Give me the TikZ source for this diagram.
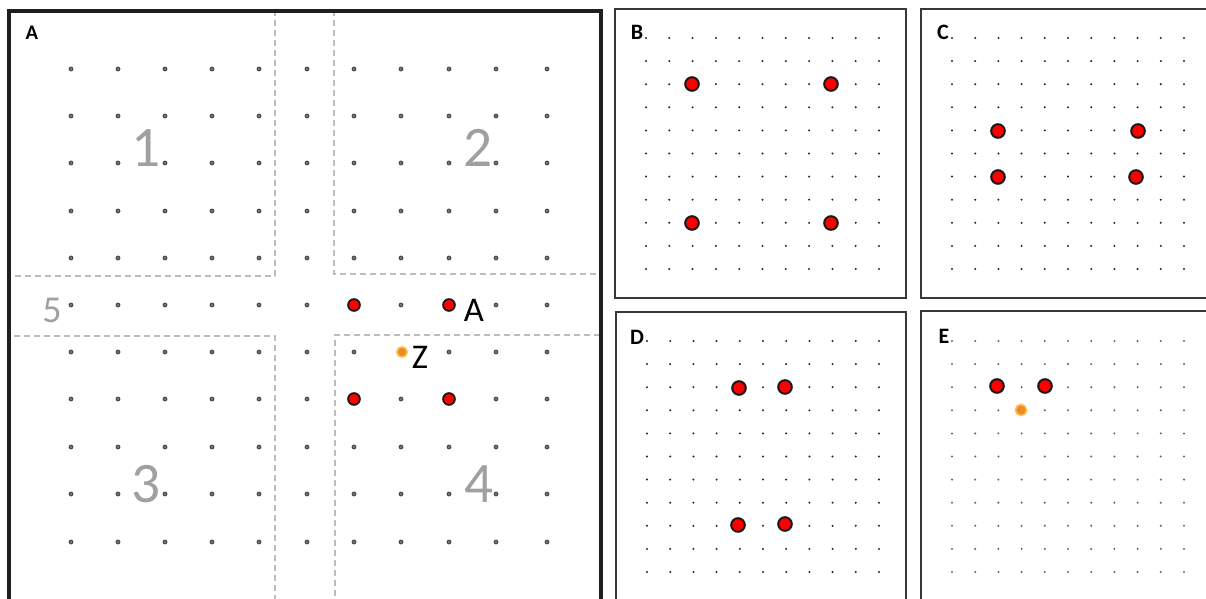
\documentclass[tikz,border=0pt]{standalone}
\usepackage{fontspec}
\setmainfont{Carlito}
\usetikzlibrary{positioning}
\definecolor{zonegray}{HTML}{A0A0A0}
\definecolor{dashgray}{HTML}{BDBDBD}
\definecolor{zorange}{HTML}{EE8A2C}
\definecolor{zhalo}{HTML}{FFC44D}

\begin{document}
\begin{tikzpicture}[x=0.75pt, y=-0.75pt,
    every node/.style={inner sep=0pt},
    panel/.style={draw=black!78, line width=1.6pt},
    zoneline/.style={draw=dashgray, line width=1.1pt, dash pattern=on 4.5pt off 3pt},
    zonenum/.style={text=zonegray, font=\fontsize{43}{43}\selectfont},
    tag/.style={font=\bfseries\fontsize{16.5}{16.5}\selectfont},
    bigdot/.style={circle, fill=red, draw=black!90, line width=1.4pt, minimum size=8.8pt},
    reddot/.style={circle, fill=red, draw=black!90, line width=1.5pt, minimum size=10.2pt},
    zdot/.style={circle, fill=zorange, draw=zhalo, line width=1.2pt, minimum size=7.8pt}]
  \clip (0,0) rectangle (1206,599);
  \fill[white] (0,0) rectangle (1206,599);

  % panel A: the big lattice with its zones
  \foreach \x in {71,118,165,212,259,307,354,401,449,496,547}
    \foreach \y in {69,116,163,211,258,305,352,399,447,494,542}
      \filldraw[draw=black!80, fill=black!55, line width=0.5pt] (\x,\y) circle (1.5pt);
  \draw[zoneline] (275,10) -- (275,276) -- (14,276);
  \draw[zoneline] (334,10) -- (334,274) -- (600,274);
  \draw[zoneline] (14,336) -- (275,336) -- (275,599);
  \draw[zoneline] (600,335) -- (335,335) -- (335,599);
  \draw[panel, draw=black!88, line width=2.3pt] (9,11) rectangle (601,640);
  \node[tag, font=\bfseries\fontsize{15.5}{15.5}\selectfont] (tagA) at (32,33) {A};
  \node[zonenum] (z1) at (146,148) {1};
  \node[zonenum] (z2) at (478,148) {2};
  \node[zonenum] (z3) at (146,484) {3};
  \node[zonenum] (z4) at (479,484) {4};
  \node[zonenum, font=\fontsize{28.5}{28.5}\selectfont] (z5) at (52,310) {5};
  \node[bigdot] (a1) at (354,305) {};
  \node[bigdot] (a2) at (449,305) {};
  \node[bigdot] (a3) at (354,399) {};
  \node[bigdot] (a4) at (449,399) {};
  \node[zdot] (az) at (402,352) {};
  \node[font=\fontsize{26}{26}\selectfont] (lblA) at (474,310) {A};
  \node[font=\fontsize{26}{26}\selectfont] (lblZ) at (420,357) {Z};

  % panel B
  \foreach \i in {0,...,10}
    \foreach \j in {0,...,10}
      \fill[black!85] ({646+23.3*\i},{38+23.1*\j}) circle (0.85pt);
  \draw[panel] (615,9) rectangle (906,298);
  \node[tag] (tagB) at (637,32) {B};
  \node[reddot] (b1) at (692,84) {};
  \node[reddot] (b2) at (831,84) {};
  \node[reddot] (b3) at (692,223) {};
  \node[reddot] (b4) at (831,223) {};

  % panel C
  \foreach \i in {0,...,10}
    \foreach \j in {0,...,10}
      \fill[black!85] ({952+23.2*\i},{38+23.1*\j}) circle (0.85pt);
  \draw[panel] (921,9) rectangle (1240,298);
  \node[tag] (tagC) at (943,32) {C};
  \node[reddot] (c1) at (998,131) {};
  \node[reddot] (c2) at (1138,131) {};
  \node[reddot] (c3) at (998,177) {};
  \node[reddot] (c4) at (1136,177) {};

  % panel D
  \foreach \i in {0,...,10}
    \foreach \j in {0,...,10}
      \fill[black!85] ({647+23.2*\i},{341+23.1*\j}) circle (0.85pt);
  \draw[panel] (616,312) rectangle (906,640);
  \node[tag] (tagD) at (637,337) {D};
  \node[reddot] (d1) at (739,388) {};
  \node[reddot] (d2) at (785,387) {};
  \node[reddot] (d3) at (738,525) {};
  \node[reddot] (d4) at (785,524) {};

  % panel E
  \foreach \i in {0,...,10}
    \foreach \j in {0,...,10}
      \fill[black!60] ({952+23.2*\i},{341+23.1*\j}) circle (0.85pt);
  \draw[panel] (921,311) rectangle (1240,640);
  \node[tag] (tagE) at (944,336) {E};
  \node[reddot] (e1) at (997,386) {};
  \node[reddot] (e2) at (1045,386) {};
  \node[zdot, minimum size=8.4pt] (ez) at (1021,410) {};
\end{tikzpicture}
\end{document}
